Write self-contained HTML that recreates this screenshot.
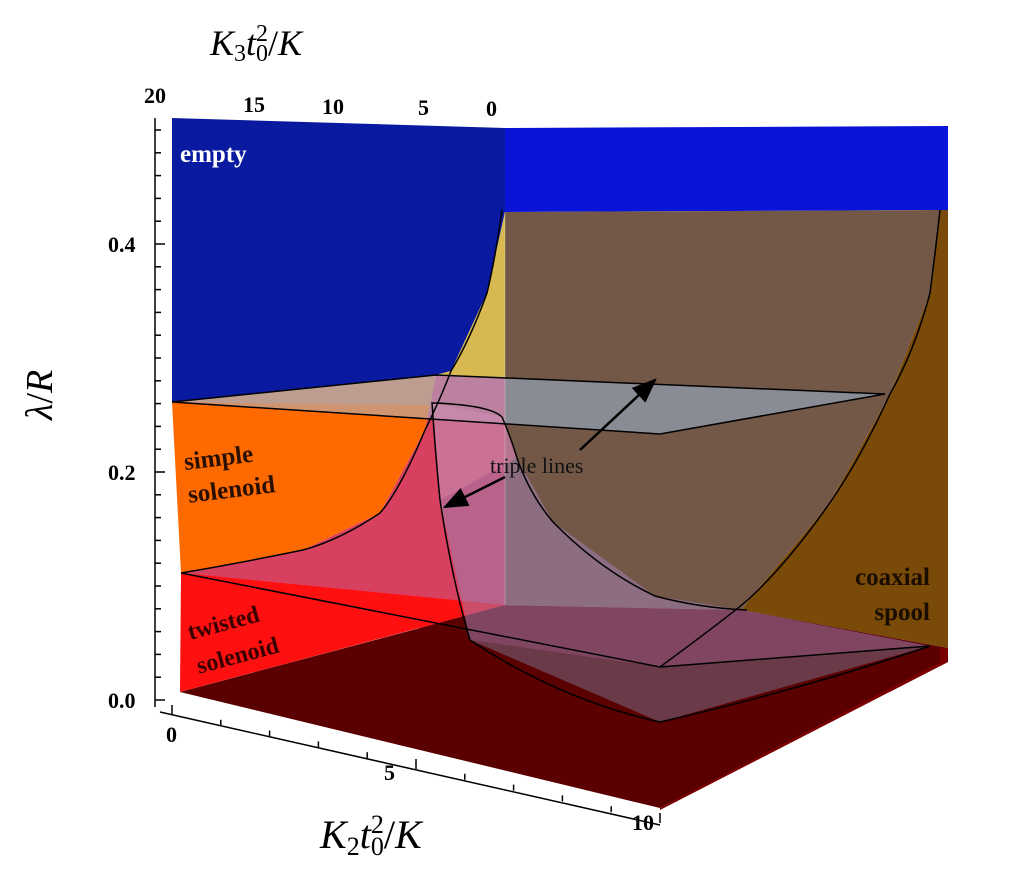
<!DOCTYPE html>
<html><head><meta charset="utf-8"><style>
body{margin:0;background:#fff;}
svg{display:block;font-family:"Liberation Serif",serif;}
</style></head><body>
<svg width="1011" height="874" viewBox="0 0 1011 874">
<defs><marker id="ah" markerWidth="10" markerHeight="8" refX="9" refY="4" orient="auto"><path d="M0,0 L10,4 L0,8 z" fill="#000"/></marker></defs>
<g>
<polygon points="172,118 505,128 505,212 487,293 451,371 436,375 172,402" fill="#0a1aa0"/>
<polygon points="505,128 948,126 948,210 505,212" fill="#0a14d8"/>
<polygon points="505,212 487,293 451,371 436,375 505,378" fill="#d8b850"/>
<polygon points="505,212 940,210 930,293 890,394 829,504 752,596 742,610 505,605" fill="#735848"/>
<polygon points="940,210 948,210 948,648 742,610 752,596 829,504 890,394 930,293" fill="#7a4a08"/>
<polygon points="172,402 436,375 425,430 380,513 303,550 181,573" fill="#ff6a00"/>
<polygon points="172,402 436,375 430,405" fill="#d08050" opacity="0.8"/>
<polygon points="425,430 436,375 505,378 505,605 470,640 405,625 181,573 303,550 380,513" fill="#d84060"/>
<polygon points="181,573 505,605 180,692" fill="#ff1010"/>
<polygon points="180,692 420,628 505,605 742,610 948,648 948,662 660,808" fill="#5a0000"/>
<polygon points="940,648 948,648 948,662 660,810 660,808 940,662" fill="#7a0000"/>
</g>
<g>
<polygon points="433,403 502,417 517,458 553,522 655,596 742,610 930,646 660,667 470,640 440,500" fill="#a080b0" opacity="0.55"/>
<polygon points="470,640 660,667 930,646 660,722" fill="#8080a0" opacity="0.45"/>
<polygon points="172,402 436,375 885,394 660,434" fill="#a0c0e0" opacity="0.5"/>
<polygon points="433,403 502,417 517,458 440,500" fill="#e080a0" opacity="0.5"/>
<line x1="505" y1="212" x2="505" y2="605" stroke="#fff" stroke-opacity="0.25" stroke-width="1"/>
</g>
<g fill="none" stroke="#000" stroke-width="1.5">
<path d="M502,210 Q495,260 487,293 Q470,340 451,371 Q440,400 425,430 Q400,490 380,513 Q340,540 303,550 Q240,563 181,573"/>
<path d="M940,210 Q935,255 930,293 Q915,350 890,394 Q860,460 829,504 Q790,560 752,596 Q740,608 660,667"/>
<path d="M432,402 Q435,450 440,500 Q452,580 470,640"/>
<path d="M433,403 Q490,405 502,417 Q510,435 517,458 Q530,495 553,522 Q600,570 655,596 Q700,608 747,610"/>
<polyline points="172,402 436,375 885,394 660,434 172,402"/>
<polyline points="181,573 660,667 930,646"/>
<path d="M470,640 Q560,700 660,722 Q800,690 930,646"/>
</g>
<g>
<text x="490" y="473" font-size="22" fill="#111">triple lines</text>
<line x1="580" y1="450" x2="655" y2="380" stroke="#000" stroke-width="2.5" marker-end="url(#ah)"/>
<line x1="505" y1="477" x2="445" y2="507" stroke="#000" stroke-width="2.5" marker-end="url(#ah)"/>
<text x="180" y="162" font-size="25" font-weight="bold" fill="#fff">empty</text>
<g transform="rotate(-7 185 470)" font-size="25" font-weight="bold" fill="#2a1000">
<text x="185" y="470">simple</text><text x="185" y="503">solenoid</text></g>
<g transform="rotate(-15 190 640)" font-size="24" font-weight="bold" fill="#3a0000">
<text x="190" y="640">twisted</text><text x="190" y="675">solenoid</text></g>
<g font-size="25" font-weight="bold" fill="#1a0e00" text-anchor="end">
<text x="930" y="585">coaxial</text><text x="930" y="620">spool</text></g>
</g>
<g stroke="#000" stroke-width="1.5" fill="none">
<line x1="155" y1="118" x2="155" y2="707"/>
<line x1="160" y1="712" x2="660" y2="825"/>
<g id="yt"></g>
<g id="xt"></g>
</g>
<g font-size="22" font-weight="bold" fill="#000">
<g id="ytl"></g>
<text x="166" y="742">0</text>
<text x="384" y="780">5</text>
<text x="632" y="830">10</text>
<text x="144" y="103">20</text>
<text x="243" y="112">15</text>
<text x="322" y="114">10</text>
<text x="418" y="115">5</text>
<text x="486" y="116">0</text>
</g>
<text x="210" y="55" font-size="36" font-style="italic">K<tspan font-size="24" dy="6" font-style="normal">3</tspan><tspan dy="-6">t</tspan><tspan font-size="24" dy="6" font-style="normal">0</tspan><tspan font-size="24" dy="-20" dx="-12" font-style="normal">2</tspan><tspan dy="14" font-style="normal">/</tspan>K</text>
<text x="320" y="848" font-size="40" font-style="italic">K<tspan font-size="26" dy="7" font-style="normal">2</tspan><tspan dy="-7">t</tspan><tspan font-size="26" dy="7" font-style="normal">0</tspan><tspan font-size="26" dy="-22" dx="-13" font-style="normal">2</tspan><tspan dy="15" font-style="normal">/</tspan>K</text>
<text transform="translate(52,420) rotate(-90)" font-size="38" font-style="italic">λ<tspan font-style="normal">/</tspan>R</text>
</svg>
<script>
const yTicks=[0.0,0.2,0.4];
const yTickLabels=["0.0","0.2","0.4"];
const xTicks=[0,1,2,3,4,5,6,7,8,9,10];
function yPos(v){return 700-v*1140;}
function xPos(v){return [172+v*48.8,715+v*10.8];}
const ns="http://www.w3.org/2000/svg";
const yt=document.getElementById('yt'),ytl=document.getElementById('ytl'),xt=document.getElementById('xt');
for(let i=0;i<=25;i++){const v=i*0.02;const y=yPos(v);if(y<118)break;
const l=document.createElementNS(ns,'line');


l.setAttribute('x1',155);l.setAttribute('x2',i%10==0?165:161);l.setAttribute('y1',y);l.setAttribute('y2',y);yt.appendChild(l);}
yTicks.forEach((v,i)=>{const t=document.createElementNS(ns,'text');


t.setAttribute('x',108);t.setAttribute('y',yPos(v)+8);t.textContent=yTickLabels[i];ytl.appendChild(t);});
xTicks.forEach(v=>{const [x,y]=xPos(v);const l=document.createElementNS(ns,'line');


l.setAttribute('x1',x);l.setAttribute('x2',x);l.setAttribute('y1',y-(v%5==0?10:6));l.setAttribute('y2',y);xt.appendChild(l);});
</script>
</body></html>
